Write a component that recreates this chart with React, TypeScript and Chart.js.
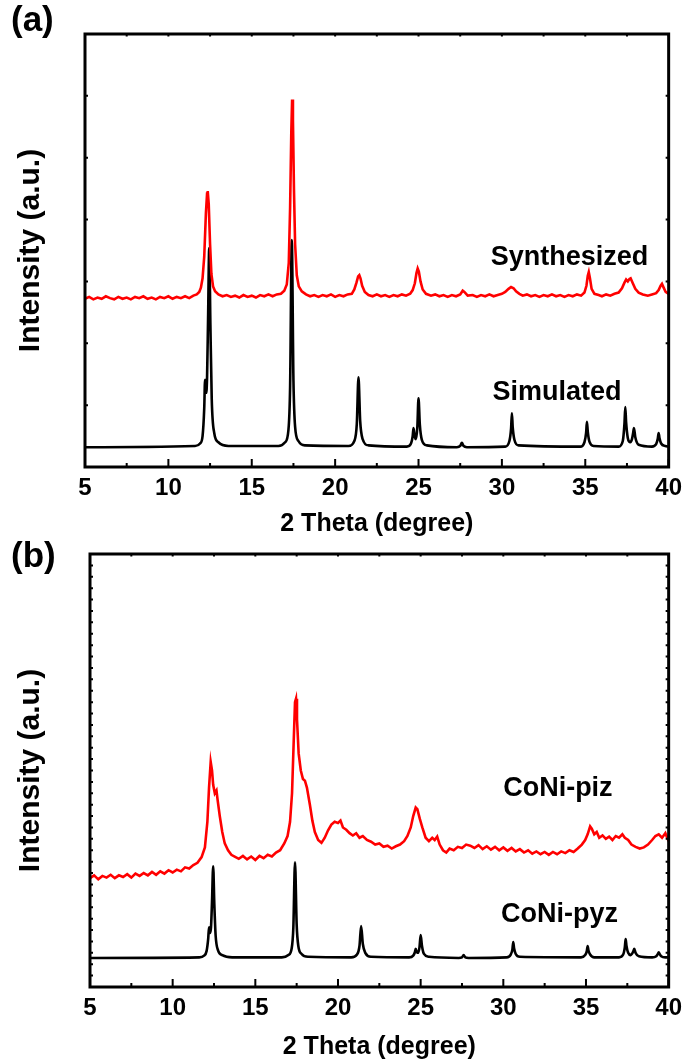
import React, { useEffect, useRef } from "react";
import { Chart, registerables } from "chart.js";
Chart.register(...registerables);

const FONT = '"Liberation Sans", Arial, sans-serif';

// axis setup
const xMin = 5;
const xMax = 40;
const xMajorTicks = [5, 10, 15, 20, 25, 30, 35, 40];
const xMinorTicks = [7.5, 12.5, 17.5, 22.5, 27.5, 32.5, 37.5];
const topYTicks = [100, 200, 300, 400, 500, 600];
const bottomYTicks = [20, 40, 60, 80, 100, 120, 140, 160, 180, 200, 220, 240, 260, 280, 300, 320, 340, 360, 380, 400, 420, 440, 460, 480, 500, 520, 540, 560, 580, 600, 620, 640, 660, 680, 700, 720, 740];

// Panel (a): synthesized (red)
const synthesized: [number, number][] = [
  [5, 272], [5.25, 275], [5.5, 271], [5.75, 274], [6, 272], [6.25, 276], [6.5, 273], [6.75, 271], [7, 275], [7.25, 272],
  [7.5, 274], [7.75, 271], [8, 275], [8.25, 273], [8.5, 276], [8.75, 272], [9, 274], [9.25, 271], [9.5, 275], [9.75, 273],
  [10, 276], [10.25, 272], [10.5, 275], [10.75, 273], [11, 276], [11.25, 273], [11.5, 277], [11.7, 279], [11.85, 283], [11.95, 290],
  [12.05, 305], [12.15, 340], [12.25, 410], [12.32, 442], [12.36, 446], [12.42, 425], [12.5, 360], [12.58, 312], [12.68, 292], [12.8, 284],
  [13, 279], [13.25, 276], [13.5, 278], [13.75, 275], [14, 277], [14.25, 274], [14.5, 278], [14.75, 275], [15, 277], [15.25, 274],
  [15.5, 278], [15.75, 276], [16, 279], [16.25, 276], [16.5, 279], [16.75, 280], [16.95, 285], [17.1, 295], [17.22, 330], [17.3, 420],
  [17.37, 540], [17.42, 594], [17.47, 560], [17.53, 450], [17.6, 360], [17.7, 310], [17.82, 292], [18, 284], [18.25, 279], [18.5, 276],
  [18.75, 278], [19, 275], [19.25, 278], [19.5, 276], [19.75, 279], [20, 275], [20.25, 278], [20.5, 276], [20.75, 279], [21, 280],
  [21.15, 287], [21.28, 298], [21.38, 308], [21.45, 310], [21.52, 305], [21.62, 293], [21.78, 283], [22, 278], [22.25, 276], [22.5, 279],
  [22.75, 276], [23, 278], [23.25, 275], [23.5, 278], [23.75, 276], [24, 279], [24.25, 277], [24.5, 280], [24.65, 286], [24.78, 297],
  [24.88, 314], [24.95, 321], [25.02, 316], [25.12, 300], [25.25, 287], [25.45, 280], [25.75, 277], [26, 279], [26.25, 276], [26.5, 278],
  [26.75, 275], [27, 278], [27.25, 276], [27.5, 279], [27.65, 285], [27.75, 283], [27.95, 277], [28.25, 278], [28.5, 275], [28.75, 278],
  [29, 276], [29.25, 279], [29.5, 276], [29.75, 278], [30, 280], [30.2, 283], [30.4, 288], [30.55, 291], [30.7, 289], [30.85, 284],
  [31.05, 280], [31.25, 277], [31.5, 279], [31.75, 276], [32, 278], [32.25, 275], [32.5, 278], [32.75, 276], [33, 279], [33.25, 276],
  [33.5, 278], [33.75, 275], [34, 278], [34.25, 276], [34.5, 279], [34.75, 277], [34.95, 282], [35.07, 293], [35.15, 309], [35.21, 315],
  [35.28, 305], [35.38, 288], [35.55, 280], [35.8, 278], [36, 276], [36.25, 279], [36.5, 277], [36.75, 280], [37, 282], [37.2, 289],
  [37.35, 298], [37.45, 303], [37.55, 300], [37.65, 304], [37.72, 305], [37.85, 297], [38, 288], [38.2, 282], [38.45, 279], [38.75, 277],
  [39, 279], [39.25, 281], [39.4, 286], [39.52, 293], [39.6, 296], [39.7, 290], [39.82, 283], [40, 280],
];

// Panel (a): simulated (black)
const simulated: [number, number][] = [
  [5, 32], [11.6, 34], [11.9, 38], [12.05, 50], [12.15, 95], [12.2, 141], [12.27, 120], [12.32, 145], [12.38, 240], [12.45, 354],
  [12.52, 230], [12.6, 110], [12.75, 55], [13, 40], [13.6, 34], [16.6, 34], [17, 40], [17.2, 60], [17.3, 130], [17.4, 367],
  [17.5, 140], [17.6, 65], [17.8, 42], [18.2, 35], [20.8, 34], [21.15, 42], [21.3, 70], [21.4, 145], [21.5, 75], [21.65, 45],
  [22, 35], [24.3, 33], [24.55, 38], [24.65, 50], [24.7, 63], [24.78, 48], [24.85, 45], [24.93, 65], [25, 111], [25.08, 68],
  [25.2, 44], [25.5, 35], [27.3, 32], [27.5, 34], [27.6, 39], [27.7, 34], [27.9, 32], [30.2, 33], [30.45, 42], [30.55, 62],
  [30.6, 87], [30.65, 64], [30.75, 44], [31, 35], [34.7, 33], [34.95, 40], [35.05, 55], [35.1, 73], [35.15, 57], [35.25, 41],
  [35.5, 34], [37, 33], [37.25, 42], [37.35, 70], [37.4, 97], [37.45, 72], [37.55, 47], [37.7, 40], [37.8, 45], [37.87, 55],
  [37.92, 63], [38, 48], [38.2, 36], [39, 33], [39.25, 37], [39.35, 46], [39.4, 55], [39.45, 47], [39.55, 38], [39.8, 34], [40, 33],
];

// Panel (b): CoNi-piz (red)
const coniPiz: [number, number][] = [
  [5, 191], [5.25, 196], [5.5, 189], [5.75, 195], [6, 192], [6.25, 197], [6.5, 191], [6.75, 196], [7, 193], [7.25, 198],
  [7.5, 192], [7.75, 199], [8, 195], [8.25, 200], [8.5, 196], [8.75, 202], [9, 197], [9.25, 203], [9.5, 199], [9.75, 205],
  [10, 201], [10.25, 206], [10.5, 203], [10.75, 210], [11, 208], [11.25, 214], [11.5, 218], [11.75, 228], [11.95, 245], [12.1, 290],
  [12.2, 350], [12.3, 395], [12.38, 380], [12.45, 355], [12.55, 340], [12.65, 345], [12.72, 328], [12.85, 300], [13, 272], [13.15, 252],
  [13.35, 240], [13.55, 232], [13.75, 229], [14, 225], [14.25, 230], [14.5, 224], [14.75, 229], [15, 223], [15.25, 230], [15.5, 226],
  [15.75, 232], [16, 229], [16.25, 236], [16.5, 240], [16.75, 252], [16.95, 265], [17.1, 290], [17.22, 340], [17.32, 430], [17.4, 500],
  [17.46, 506], [17.52, 470], [17.62, 410], [17.75, 380], [17.88, 365], [18, 362], [18.12, 350], [18.3, 320], [18.45, 292], [18.6, 272],
  [18.8, 258], [19, 253], [19.2, 262], [19.4, 275], [19.6, 285], [19.8, 290], [20, 288], [20.15, 292], [20.3, 280], [20.5, 276],
  [20.7, 270], [20.9, 266], [21.1, 270], [21.3, 262], [21.5, 265], [21.75, 258], [22, 255], [22.25, 250], [22.5, 252], [22.75, 246],
  [23, 248], [23.25, 243], [23.5, 247], [23.75, 250], [24, 256], [24.2, 265], [24.4, 280], [24.55, 300], [24.7, 315], [24.8, 312],
  [24.95, 295], [25.1, 280], [25.3, 262], [25.5, 256], [25.7, 262], [25.85, 258], [26, 264], [26.15, 250], [26.35, 240], [26.55, 236],
  [26.75, 243], [27, 240], [27.25, 246], [27.5, 244], [27.75, 250], [28, 248], [28.25, 244], [28.5, 249], [28.75, 242], [29, 247],
  [29.25, 241], [29.5, 246], [29.75, 240], [30, 245], [30.25, 239], [30.5, 244], [30.75, 238], [31, 242], [31.25, 236], [31.5, 240],
  [31.75, 234], [32, 238], [32.25, 233], [32.5, 237], [32.75, 232], [33, 237], [33.25, 233], [33.5, 238], [33.75, 235], [34, 240],
  [34.25, 237], [34.5, 243], [34.75, 250], [34.95, 258], [35.1, 268], [35.25, 282], [35.35, 278], [35.5, 268], [35.65, 272], [35.8, 262],
  [36, 266], [36.2, 260], [36.4, 264], [36.6, 258], [36.8, 265], [37, 262], [37.2, 268], [37.35, 262], [37.55, 258], [37.75, 250],
  [38, 246], [38.25, 243], [38.5, 245], [38.75, 250], [39, 258], [39.2, 265], [39.4, 268], [39.6, 262], [39.8, 270], [40, 256],
];

// Panel (b): CoNi-pyz (black)
const coniPyz: [number, number][] = [
  [5, 51], [11.6, 52], [11.9, 55], [12.05, 63], [12.15, 85], [12.2, 105], [12.27, 95], [12.32, 105], [12.38, 150], [12.45, 212],
  [12.52, 145], [12.6, 90], [12.75, 64], [13, 56], [13.6, 52], [16.6, 52], [17, 56], [17.2, 68], [17.3, 105], [17.4, 219],
  [17.5, 110], [17.6, 72], [17.8, 58], [18.2, 53], [20.8, 52], [21.15, 57], [21.3, 72], [21.4, 107], [21.5, 76], [21.65, 60],
  [22, 53], [24.3, 52], [24.55, 55], [24.65, 61], [24.7, 67], [24.78, 60], [24.85, 60], [24.93, 70], [25, 91], [25.08, 72],
  [25.2, 58], [25.5, 53], [27.3, 51], [27.5, 52], [27.6, 56], [27.7, 52], [27.9, 51], [30.2, 52], [30.45, 57], [30.55, 66],
  [30.6, 79], [30.65, 68], [30.75, 58], [31, 53], [34.7, 52], [34.95, 56], [35.05, 63], [35.1, 72], [35.15, 64], [35.25, 57],
  [35.5, 52], [37, 52], [37.25, 57], [37.35, 70], [37.4, 84], [37.45, 72], [37.55, 60], [37.7, 56], [37.8, 59], [37.87, 63],
  [37.92, 67], [38, 60], [38.2, 54], [39, 52], [39.25, 54], [39.35, 58], [39.4, 61], [39.45, 58], [39.55, 54], [39.8, 52], [40, 52],
];

const xTitle = "2 Theta (degree)";
const yTitle = "Intensity (a.u.)";

type Label = { text: string; x: number; y: number };

const framePlugin = {
  id: "frame",
  afterDatasetsDraw(chart: any, _args: any, opts: any) {
    const { ctx, chartArea: a, scales } = chart;
    const xs = scales.x;
    const ys = scales.y;
    ctx.save();
    ctx.strokeStyle = "#000";
    ctx.lineCap = "butt";
    ctx.lineWidth = 2;
    ctx.beginPath();
    for (const v of xMajorTicks) {
      const px = xs.getPixelForValue(v);
      ctx.moveTo(px, a.bottom);
      ctx.lineTo(px, a.bottom - 8);
    }
    for (const v of xMinorTicks) {
      const px = xs.getPixelForValue(v);
      ctx.moveTo(px, a.bottom);
      ctx.lineTo(px, a.bottom - 4);
    }
    for (const v of [...xMajorTicks, ...xMinorTicks]) {
      const px = xs.getPixelForValue(v);
      ctx.moveTo(px, a.top);
      ctx.lineTo(px, a.top + 2.5);
    }
    for (const v of opts.yTicks as number[]) {
      const py = ys.getPixelForValue(v);
      ctx.moveTo(a.left, py);
      ctx.lineTo(a.left + 3, py);
      ctx.moveTo(a.right, py);
      ctx.lineTo(a.right - 3, py);
    }
    ctx.stroke();
    ctx.lineWidth = 3;
    ctx.strokeRect(a.left, a.top, a.right - a.left, a.bottom - a.top);

    ctx.fillStyle = "#000";
    ctx.textAlign = "center";
    ctx.textBaseline = "middle";
    ctx.font = `bold 27px ${FONT}`;
    for (const lab of opts.labels as Label[]) {
      ctx.fillText(lab.text, xs.getPixelForValue(lab.x), ys.getPixelForValue(lab.y));
    }
    ctx.textAlign = "left";
    ctx.font = `bold 35px ${FONT}`;
    ctx.fillText(opts.panel, 11, opts.panelY);
    ctx.restore();
  },
};

function makeConfig(
  red: [number, number][],
  black: [number, number][],
  yMax: number,
  yWidth: number,
  xHeight: number,
  padding: any,
  frameOpts: any
): any {
  return {
    type: "line",
    data: {
      datasets: [
        {
          data: red.map(([x, y]) => ({ x, y })),
          borderColor: "#ff0000",
          borderWidth: 2.6,
          pointRadius: 0,
          tension: 0,
          fill: false,
        },
        {
          data: black.map(([x, y]) => ({ x, y })),
          borderColor: "#000000",
          borderWidth: 2.6,
          pointRadius: 0,
          cubicInterpolationMode: "monotone",
          fill: false,
        },
      ],
    },
    options: {
      responsive: false,
      animation: false,
      events: [],
      layout: { padding },
      plugins: {
        legend: { display: false },
        tooltip: { enabled: false },
        frame: frameOpts,
      },
      scales: {
        x: {
          type: "linear",
          min: xMin,
          max: xMax,
          grid: { display: false, drawTicks: false, tickLength: 0 },
          border: { display: false },
          ticks: {
            stepSize: 5,
            autoSkip: false,
            maxRotation: 0,
            padding: 7,
            color: "#000",
            font: { family: FONT, size: 24, weight: "bold" },
          },
          title: {
            display: true,
            text: xTitle,
            color: "#000",
            font: { family: FONT, size: 25, weight: "bold" },
            padding: { top: 0, bottom: 1 },
          },
          afterFit: (s: any) => {
            s.height = xHeight;
          },
        },
        y: {
          type: "linear",
          min: 0,
          max: yMax,
          grid: { display: false, drawTicks: false, tickLength: 0 },
          border: { display: false },
          ticks: { display: false },
          title: {
            display: true,
            text: yTitle,
            color: "#000",
            font: { family: FONT, size: 30, weight: "bold" },
            padding: { top: 13, bottom: 0 },
          },
          afterFit: (s: any) => {
            s.width = yWidth;
          },
        },
      },
    },
    plugins: [framePlugin],
  };
}

export default function App() {
  const topRef = useRef<HTMLCanvasElement | null>(null);
  const botRef = useRef<HTMLCanvasElement | null>(null);

  useEffect(() => {
    const top = new Chart(
      topRef.current as HTMLCanvasElement,
      makeConfig(synthesized, simulated, 700, 85, 73, { top: 34, right: 20, left: 0, bottom: 0 }, {
        yTicks: topYTicks,
        panel: "(a)",
        panelY: 21,
        labels: [
          { text: "Synthesized", x: 34.05, y: 339 },
          { text: "Simulated", x: 33.3, y: 121 },
        ],
      })
    );
    const bot = new Chart(
      botRef.current as HTMLCanvasElement,
      makeConfig(coniPiz, coniPyz, 760, 90, 76, { top: 14, right: 16, left: 0, bottom: 0 }, {
        yTicks: bottomYTicks,
        panel: "(b)",
        panelY: 17,
        labels: [
          { text: "CoNi-piz", x: 33.3, y: 348 },
          { text: "CoNi-pyz", x: 33.4, y: 128 },
        ],
      })
    );
    return () => {
      top.destroy();
      bot.destroy();
    };
  }, []);

  return (
    <div style={{ position: "absolute", left: 0, top: 0, width: 689, height: 1063, background: "#fff" }}>
      <canvas ref={topRef} width={689} height={540} style={{ position: "absolute", left: 0, top: 0, width: 689, height: 540 }} />
      <canvas ref={botRef} width={689} height={523} style={{ position: "absolute", left: 0, top: 540, width: 689, height: 523 }} />
    </div>
  );
}
